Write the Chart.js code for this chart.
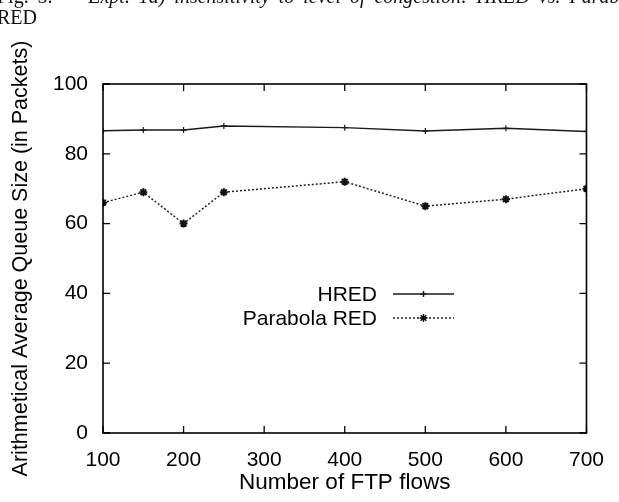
<!DOCTYPE html>
<html>
<head>
<meta charset="utf-8">
<script src="https://cdn.jsdelivr.net/npm/chart.js@4/dist/chart.umd.min.js"></script>
<style>
  html, body { margin: 0; padding: 0; background: #fff; overflow: hidden; }
  #wrap { position: relative; width: 619px; height: 502px; overflow: hidden; }
  #caption {
    position: absolute; left: -3px; top: -14px; width: 648px;
    font-family: 'Liberation Serif', 'Times New Roman', serif;
    font-size: 20px; line-height: 21px; color: #111;
    text-align: justify; text-align-last: justify;
  }
  #caption i { font-style: italic; }
  canvas { position: absolute; left: 0; top: 0; }
</style>
</head>
<body>
<div id="wrap">
  <canvas id="chart_canvas" width="619" height="502"></canvas>
  <div id="caption">Fig. 5.&nbsp;&nbsp;&nbsp; <i>Expt. 1a) insensitivity to level of congestion: HRED vs. Parabola</i><br>RED</div>
</div>
<script>
const flows = [100, 150, 200, 250, 400, 500, 600, 700];
const hredQueue = [86.6, 86.8, 86.8, 88.0, 87.5, 86.5, 87.3, 86.4];
const parabolaQueue = [66, 69, 60, 69, 72, 65, 67, 70];
const xTicks = [100, 200, 300, 400, 500, 600, 700];
const yTicks = [0, 20, 40, 60, 80, 100];

Chart.defaults.font.family = "'Liberation Sans', Arial, Helvetica, sans-serif";
Chart.defaults.font.size = 21;
Chart.defaults.color = '#000';

function points(ys) {
    return flows.map(function(x, i) { return { x: x, y: ys[i] }; });
}

// gnuplot-like box with inward ticks on every side
var framePlugin = {
    id: 'frame',
    afterDatasetsDraw: function(chart) {
        var ctx = chart.ctx;
        var a = chart.chartArea;
        var xs = chart.scales.x;
        var ys = chart.scales.y;
        var len = 7;
        ctx.save();
        ctx.strokeStyle = '#000';
        ctx.lineWidth = 1.6;
        ctx.strokeRect(a.left, a.top, a.right - a.left, a.bottom - a.top);
        ctx.lineWidth = 1.3;
        ctx.beginPath();
        xTicks.forEach(function(v) {
            var px = xs.getPixelForValue(v);
            ctx.moveTo(px, a.bottom); ctx.lineTo(px, a.bottom - len);
            ctx.moveTo(px, a.top); ctx.lineTo(px, a.top + len);
        });
        yTicks.forEach(function(v) {
            var py = ys.getPixelForValue(v);
            ctx.moveTo(a.left, py); ctx.lineTo(a.left + len, py);
            ctx.moveTo(a.right, py); ctx.lineTo(a.right - len, py);
        });
        ctx.stroke();
        ctx.restore();
    }
};

// key inside the plot: label on the left, line sample on the right
var keyPlugin = {
    id: 'key',
    afterDraw: function(chart) {
        var ctx = chart.ctx;
        var textRight = 377, x0 = 393, x1 = 454, rowY = [294, 318];
        ctx.save();
        ctx.font = "21px 'Liberation Sans', Arial, sans-serif";
        ctx.textAlign = 'right';
        ctx.textBaseline = 'middle';
        chart.data.datasets.forEach(function(ds, i) {
            var y = rowY[i];
            ctx.fillStyle = '#000';
            ctx.fillText(ds.label, textRight, y + 1);
            ctx.strokeStyle = ds.borderColor;
            ctx.lineWidth = ds.borderWidth;
            ctx.setLineDash(ds.borderDash || []);
            ctx.beginPath();
            ctx.moveTo(x0, y); ctx.lineTo(x1, y);
            ctx.stroke();
            ctx.setLineDash([]);
            ctx.fillStyle = ds.pointBorderColor;
            ctx.strokeStyle = ds.pointBorderColor;
            Chart.helpers.drawPoint(ctx, {
                pointStyle: ds.pointStyle,
                radius: ds.pointRadius,
                rotation: 0,
                borderWidth: ds.pointBorderWidth
            }, (x0 + x1) / 2, y);
        });
        ctx.restore();
    }
};

var chart = new Chart(document.getElementById('chart_canvas'), {
    type: 'line',
    data: {
        datasets: [
            {
                label: 'HRED',
                data: points(hredQueue),
                borderColor: '#1a1a1a',
                borderWidth: 1.5,
                pointStyle: 'cross',
                pointRadius: 3,
                pointBorderWidth: 1.2,
                pointBorderColor: '#1a1a1a',
                pointBackgroundColor: '#1a1a1a',
                tension: 0,
                fill: false
            },
            {
                label: 'Parabola RED',
                data: points(parabolaQueue),
                borderColor: '#222',
                borderWidth: 1.5,
                borderDash: [2, 2],
                pointStyle: 'star',
                pointRadius: 4,
                pointBorderWidth: 2,
                pointBorderColor: '#111',
                pointBackgroundColor: '#111',
                tension: 0,
                fill: false
            }
        ]
    },
    options: {
        responsive: false,
        animation: false,
        events: [],
        layout: { padding: { top: 84, right: 20, left: 0, bottom: 0 } },
        plugins: { legend: { display: false }, tooltip: { enabled: false } },
        scales: {
            x: {
                type: 'linear',
                min: 100,
                max: 700,
                afterBuildTicks: function(scale) {
                    scale.ticks = xTicks.map(function(v) { return { value: v }; });
                },
                afterFit: function(scale) { scale.height = 69; },
                grid: { display: false, drawTicks: false },
                border: { display: false },
                ticks: { padding: 15, maxRotation: 0, autoSkip: false },
                title: {
                    display: true,
                    text: 'Number of FTP flows',
                    font: { size: 22.5 },
                    padding: { top: 6, bottom: 6 }
                }
            },
            y: {
                type: 'linear',
                min: 0,
                max: 100,
                afterBuildTicks: function(scale) {
                    scale.ticks = yTicks.map(function(v) { return { value: v }; });
                },
                afterFit: function(scale) { scale.width = 103; },
                grid: { display: false, drawTicks: false },
                border: { display: false },
                ticks: { padding: 15 },
                title: {
                    display: true,
                    text: 'Arithmetical Average Queue Size (in Packets)',
                    font: { size: 21.5 },
                    padding: { top: 8, bottom: 8 }
                }
            }
        }
    },
    plugins: [framePlugin, keyPlugin]
});
</script>
</body>
</html>
